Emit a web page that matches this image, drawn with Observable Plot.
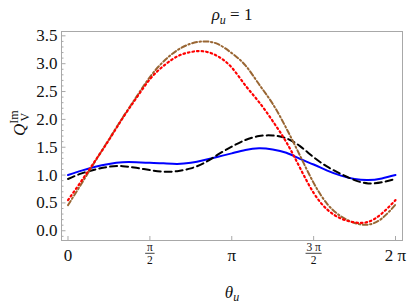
<!DOCTYPE html>
<html><head><meta charset="utf-8">
<script src="https://cdn.jsdelivr.net/npm/d3@7"></script>
<script src="https://cdn.jsdelivr.net/npm/@observablehq/plot@0.6"></script>
<style>body{margin:0;background:#fff} svg text{font-family:"Liberation Serif","Times New Roman",serif !important}</style>
</head><body><div id="chart"></div>
<script>
// θ_u sample points (multiples of π/12)
const theta = [0, 0.2618, 0.5236, 0.7854, 1.0472, 1.3090, 1.5708, 1.8326, 2.0944, 2.3562, 2.6180, 2.8798, 3.1416,
  3.4034, 3.6652, 3.9270, 4.1888, 4.4506, 4.7124, 4.9742, 5.2360, 5.4978, 5.7596, 6.0214, 6.2832];
const blueSeries  = [1.00, 1.08, 1.15, 1.20, 1.23, 1.23, 1.22, 1.21, 1.20, 1.22, 1.27, 1.33, 1.39,
  1.45, 1.48, 1.46, 1.40, 1.29, 1.19, 1.08, 0.99, 0.93, 0.91, 0.94, 1.00];
const blackSeries = [0.93, 1.03, 1.10, 1.15, 1.16, 1.13, 1.09, 1.06, 1.07, 1.12, 1.22, 1.37, 1.51,
  1.63, 1.70, 1.71, 1.66, 1.52, 1.32, 1.15, 1.02, 0.91, 0.85, 0.87, 0.93];
const redSeries   = [0.55, 0.90, 1.26, 1.63, 2.02, 2.38, 2.72, 2.96, 3.13, 3.21, 3.22, 3.13, 2.93,
  2.61, 2.31, 1.97, 1.59, 1.13, 0.68, 0.38, 0.22, 0.15, 0.16, 0.31, 0.55];
const brownSeries = [0.46, 0.85, 1.25, 1.64, 2.03, 2.40, 2.76, 3.04, 3.24, 3.36, 3.40, 3.35, 3.19,
  2.97, 2.63, 2.28, 1.84, 1.35, 0.86, 0.48, 0.26, 0.14, 0.11, 0.22, 0.47];

const xTickValues = [0, Math.PI / 2, Math.PI, 3 * Math.PI / 2, 2 * Math.PI];
const xTickNumerators = ["0", "π", "π", "3 π", "2 π"];
const xTickDenominators = ["", "2", "", "2", ""];
const yMajorTicks = [0, 0.5, 1, 1.5, 2, 2.5, 3, 3.5];
const yTickLabels = ["0.0", "0.5", "1.0", "1.5", "2.0", "2.5", "3.0", "3.5"];
const yMinorTicks = [-0.1, 0.1, 0.2, 0.3, 0.4, 0.6, 0.7, 0.8, 0.9, 1.1, 1.2, 1.3, 1.4, 1.6, 1.7, 1.8, 1.9,
  2.1, 2.2, 2.3, 2.4, 2.6, 2.7, 2.8, 2.9, 3.1, 3.2, 3.3, 3.4];
const titleText = "ρu = 1";
const xLabelText = "θu";
const yLabelText = "QVIm";

const rows = (ys) => theta.map((t, i) => ({t, v: ys[i]}));
const xTicks = xTickValues.map((v, i) => ({v, num: xTickNumerators[i], den: xTickDenominators[i]}));
const plainTicks = xTicks.filter(d => d.den === "");
const fracTicks = xTicks.filter(d => d.den !== "");
const frameGray = "#a8a8a8";
const ink = "#111";
const barShape = {draw(ctx, l) { ctx.moveTo(0, 0); ctx.lineTo(0, -l); }};

const chart = Plot.plot({
  width: 409, height: 305,
  marginTop: 31, marginBottom: 65, marginLeft: 61, marginRight: 7,
  x: {domain: [-0.1247, 6.4174]},
  y: {domain: [-0.175, 3.578]},
  style: {fontFamily: "'Liberation Serif', serif", fontSize: "17px", color: ink, background: "#fff"},
  marks: [
    Plot.frame({stroke: frameGray}),
    Plot.axisY({ticks: yMinorTicks, tickSize: 2.5, dx: 2.5, fill: "none", stroke: frameGray, label: null}),
    Plot.axisY({ticks: yMajorTicks, tickSize: 4.5, dx: 4.5, fill: "none", stroke: frameGray, label: null}),
    Plot.axisY({ticks: yMajorTicks, tickSize: 0, tickPadding: 4, tickFormat: (d, i) => yTickLabels[i], label: null, fontSize: 17, fill: ink}),
    Plot.axisX({ticks: xTickValues, tickSize: 4, dy: -4, fill: "none", stroke: frameGray, label: null}),
    Plot.text(plainTicks, {x: "v", text: "num", frameAnchor: "bottom", dy: 15.5, lineAnchor: "middle", fontSize: 17, fill: ink}),
    Plot.text(fracTicks, {x: "v", text: "num", frameAnchor: "bottom", dy: 7, lineAnchor: "middle", fontSize: 11.5, fill: ink}),
    Plot.text(fracTicks, {x: "v", text: "den", frameAnchor: "bottom", dy: 20, lineAnchor: "middle", fontSize: 11.5, fill: ink}),
    Plot.vector(fracTicks, {x: "v", frameAnchor: "bottom", dy: 12.8, length: d => d.num.length > 1 ? 16 : 9, rotate: 90, anchor: "middle", shape: barShape, stroke: ink, strokeWidth: 0.8}),
    Plot.line(rows(blueSeries), {x: "t", y: "v", stroke: "#0000ff", strokeWidth: 2, curve: "natural"}),
    Plot.line(rows(blackSeries), {x: "t", y: "v", stroke: "#000", strokeWidth: 2, strokeDasharray: "7,4", curve: "natural"}),
    Plot.line(rows(brownSeries), {x: "t", y: "v", stroke: "#996633", strokeWidth: 2, strokeDasharray: "5,2.5,1.5,2.5", curve: "natural"}),
    Plot.line(rows(redSeries), {x: "t", y: "v", stroke: "#ff0000", strokeWidth: 2.2, strokeDasharray: "1.6,3", curve: "natural"}),
    Plot.text([titleText], {frameAnchor: "top", dy: -17, lineAnchor: "middle", fontSize: 17, fill: ink}),
    Plot.text([xLabelText], {frameAnchor: "bottom", dy: 52.5, lineAnchor: "middle", fontSize: 17, fill: ink}),
    Plot.text([yLabelText], {frameAnchor: "left", dx: -42, rotate: -90, lineAnchor: "middle", fontSize: 17, fill: ink})
  ]
});
document.getElementById("chart").appendChild(chart);

const svg = d3.select(chart);
svg.selectAll("text").attr("font-family", "'Liberation Serif', serif");
function rich(content, parts) {
  const t = svg.selectAll("text").filter(function () { return this.textContent === content; });
  t.text(null);
  for (const p of parts) {
    const s = t.append("tspan").text(p.text);
    for (const k in p) if (k !== "text") s.attr(k, p[k]);
  }
}
rich(titleText, [
  {text: "ρ", "font-style": "italic"},
  {text: "u", "font-style": "italic", "font-size": 12, dy: 4},
  {text: " = 1", dy: -4}
]);
rich(xLabelText, [
  {text: "θ", "font-style": "italic"},
  {text: "u", "font-style": "italic", "font-size": 12, dy: 2.5}
]);
rich(yLabelText, [
  {text: "Q", "font-style": "italic"},
  {text: "Im", "font-size": 12, dy: -7},
  {text: "V", "font-size": 12, dx: -11, dy: 11}
]);
</script></body></html>
